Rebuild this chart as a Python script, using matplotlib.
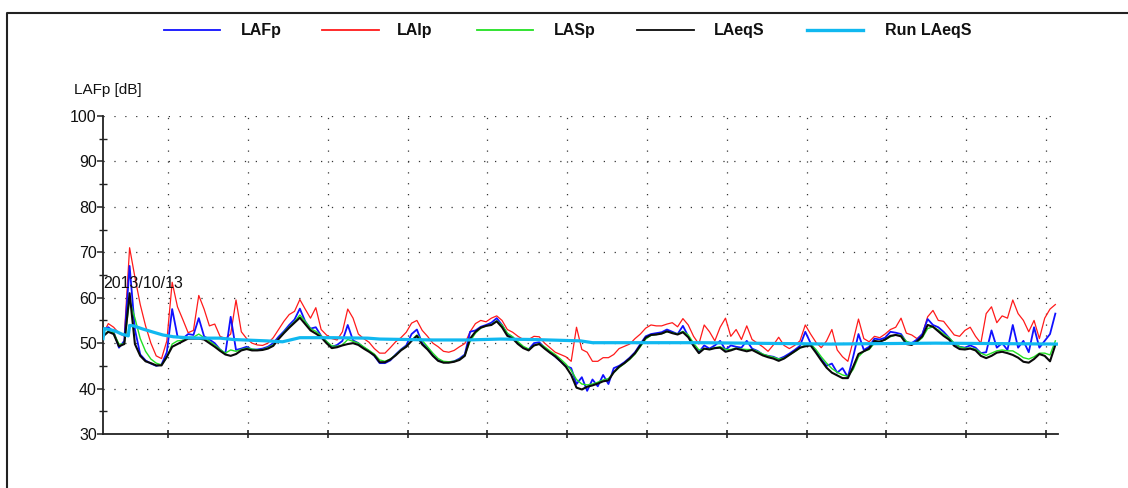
import numpy as np
import matplotlib
matplotlib.use("Agg")
import matplotlib.pyplot as plt
from matplotlib.lines import Line2D

plt.rcParams["font.family"] = ["Liberation Sans", "DejaVu Sans"]

# Sound level logger export, one value every 4 minutes (minutes since start)
SAMPLE_MIN = 4
LAeqS = [51.5, 52.5, 52.0, 49.3, 49.8, 61.0, 49.8, 47.2, 46.0, 45.6,
         45.1, 45.1, 47.0, 49.2, 49.8, 50.4, 51.0, 51.0, 51.0, 50.8,
         50.0, 49.2, 48.3, 47.5, 47.2, 47.6, 48.4, 48.7, 48.4, 48.4,
         48.5, 48.8, 49.4, 50.9, 52.2, 53.4, 54.5, 55.6, 54.2, 52.8,
         52.1, 51.3, 50.0, 48.9, 49.1, 49.5, 49.8, 50.0, 49.6, 48.8,
         48.1, 47.3, 45.8, 45.8, 46.4, 47.3, 48.4, 49.2, 50.5, 51.6,
         49.7, 48.6, 47.2, 46.1, 45.7, 45.7, 45.9, 46.3, 47.2, 51.0,
         52.5, 53.4, 53.8, 54.0, 54.8, 53.5, 51.6, 51.0, 49.8, 48.9,
         48.4, 49.5, 49.8, 48.8, 47.9, 47.1, 46.0, 44.8, 43.0, 40.2,
         39.8, 40.4, 40.7, 41.1, 41.6, 41.8, 43.6, 44.8, 45.6, 46.6,
         47.8, 49.5, 51.2, 51.8, 51.9, 52.1, 52.6, 52.2, 51.9, 52.4,
         51.3, 49.4, 47.8, 48.8, 48.6, 48.9, 49.0, 48.1, 48.4, 48.8,
         48.5, 48.2, 48.5, 47.9, 47.3, 46.9, 46.6, 46.1, 46.6, 47.4,
         48.2, 49.0, 49.3, 49.5, 47.9, 46.2, 44.6, 43.5, 42.9, 42.3,
         42.3, 44.8, 47.6, 48.2, 48.8, 50.5, 50.3, 50.8, 51.6, 51.8,
         51.5, 49.8, 49.6, 50.4, 51.5, 54.0, 53.6, 52.6, 51.6, 50.8,
         49.4, 48.7, 48.6, 48.8, 48.4, 47.2, 46.7, 47.2, 47.9, 48.1,
         47.8, 47.4, 46.8, 45.9, 45.7, 46.5, 47.6, 47.2, 46.0, 49.6]

LAFp = [53.0, 53.5, 52.5, 49.0, 50.5, 67.0, 53.0, 47.5, 46.2, 45.5,
        45.0, 45.3, 48.0, 57.5, 51.5, 51.0, 52.0, 51.8, 55.5, 51.5,
        50.8, 50.0, 48.6, 47.7, 55.8, 48.5, 48.8, 49.2, 48.6, 48.6,
        48.8, 49.2, 50.0, 51.4, 52.6, 54.0, 55.2, 57.6, 54.8, 53.2,
        53.5, 51.6, 50.3, 49.2, 49.6, 50.5, 54.0, 50.6, 50.0, 49.0,
        48.3, 47.2, 45.6, 45.6, 46.2, 47.5, 48.6, 49.5, 52.0, 53.0,
        50.0, 48.8, 47.3, 46.2, 45.8, 45.8, 46.0, 46.6, 47.5, 52.5,
        52.8, 53.6, 54.0, 54.5, 55.5, 54.0, 52.0, 51.3, 50.0, 49.0,
        48.6, 50.0, 50.2, 49.0, 48.0, 47.0, 46.0, 45.0, 44.5, 41.0,
        42.5, 39.5, 42.0, 40.5, 43.0, 41.0, 44.5, 45.0, 45.8, 46.8,
        48.0, 49.8, 51.5, 52.0, 52.2, 52.4, 53.0, 52.5, 52.0, 53.8,
        51.5, 49.5, 48.0, 49.5, 48.8, 49.5, 50.5, 48.5, 49.5, 49.2,
        49.0, 50.5, 48.8, 48.3, 47.5, 47.2, 47.0, 46.5, 47.0, 47.7,
        48.5, 49.4, 52.5, 50.0, 48.2, 46.5, 45.0, 45.5, 43.5, 44.5,
        42.5, 47.0, 52.0, 48.5, 49.2, 51.0, 50.8, 51.2, 52.5, 52.3,
        52.0, 50.2, 50.0, 50.8, 52.0, 55.3, 54.0, 53.5, 52.5, 51.2,
        49.8, 49.2, 49.0, 49.5, 49.0, 47.8, 48.0, 52.8, 49.0, 50.0,
        48.5, 54.0, 49.0, 50.5, 48.0, 53.5, 49.0, 50.5, 52.0, 56.5]

LASp = [51.8, 52.6, 52.3, 49.8, 49.8, 59.5, 55.5, 51.0, 48.2, 46.5,
        45.6, 45.2, 46.8, 49.8, 50.5, 50.6, 51.2, 51.3, 52.0, 51.2,
        50.4, 49.6, 48.6, 47.8, 48.5, 48.2, 48.6, 48.9, 48.7, 48.5,
        48.6, 49.0, 49.6, 51.0, 52.4, 53.6, 54.7, 56.2, 54.8, 53.2,
        52.6, 51.6, 50.4, 49.4, 49.3, 49.6, 50.8, 50.4, 50.0, 49.2,
        48.4, 47.6, 46.3, 46.0, 46.5, 47.4, 48.5, 49.3, 50.6, 51.8,
        50.6, 49.2, 47.8, 46.6, 46.0, 45.9, 46.0, 46.4, 47.3, 50.4,
        52.2, 53.3, 53.8, 54.1, 54.9, 54.0, 52.2, 51.4, 50.3, 49.3,
        48.7, 49.4, 49.9, 49.2, 48.3, 47.5, 46.5, 45.4, 44.0, 42.0,
        41.0, 40.8, 41.0, 41.4, 41.9, 42.2, 43.5, 44.6, 45.5, 46.4,
        47.6, 49.2, 50.9, 51.7, 51.9, 52.1, 52.5, 52.3, 52.0, 52.6,
        51.8, 50.0, 48.5, 48.7, 48.7, 49.0, 49.2, 48.6, 48.6, 48.9,
        48.7, 48.6, 48.6, 48.2, 47.6, 47.2, 46.9, 46.5, 46.7, 47.4,
        48.1, 48.9, 49.6, 49.8, 48.6, 47.0, 45.6, 44.4, 43.6, 43.0,
        42.7, 44.2, 47.0, 48.2, 48.6, 50.0, 50.4, 50.7, 51.4, 51.8,
        51.7, 50.4, 49.9, 50.2, 51.2, 53.2, 53.6, 52.9, 52.0, 51.2,
        50.0, 49.2, 48.9, 48.9, 48.7, 47.8, 47.3, 47.8, 48.3, 48.5,
        48.3, 48.3, 47.6, 46.8, 46.5, 47.0, 47.8, 47.8, 47.4, 50.5]

LAIp = [52.0, 54.3, 53.5, 52.2, 51.5, 71.0, 64.5, 58.5, 53.8, 50.0,
        47.2, 46.6, 50.5, 63.4, 58.0, 55.2, 52.3, 52.8, 60.5, 57.5,
        53.8, 54.2, 51.5, 51.0, 52.0, 59.5, 52.5, 51.0, 50.0, 49.6,
        49.5, 50.0, 51.2, 53.0, 54.8, 56.3, 57.0, 59.6, 57.5, 55.5,
        57.8, 53.0, 51.8, 51.0, 50.7, 52.5, 57.5, 55.5, 52.0, 51.0,
        50.2, 48.8, 47.8, 47.8, 49.0, 50.3, 51.2, 52.4, 54.4, 55.0,
        52.8, 51.5, 50.0, 49.2, 48.2, 48.0, 48.4, 49.2, 49.9, 52.5,
        54.3, 55.0, 54.7, 55.5, 56.0, 55.0, 53.0, 52.4, 51.5, 50.8,
        50.8, 51.5, 51.4, 50.0, 49.0, 48.0, 47.5, 47.0, 46.0, 53.5,
        48.6, 48.0, 46.0, 46.0, 46.8, 46.8, 47.5, 48.8, 49.3, 49.8,
        51.0, 52.0, 53.3, 54.0, 53.8, 53.8, 54.2, 54.5, 53.6, 55.4,
        54.0, 51.5, 49.8, 54.0, 52.5, 50.5, 53.5, 55.5, 51.5, 53.0,
        50.8, 53.8, 50.8, 50.0, 49.2, 48.2, 49.6, 51.3, 49.5, 48.8,
        49.5, 50.5, 54.0, 52.0, 50.2, 49.0, 50.5, 53.0, 48.5, 47.0,
        46.0, 50.5, 55.3, 51.0, 50.3, 51.5, 51.2, 52.0, 53.0, 53.5,
        55.5, 52.2, 51.8, 51.0, 52.0, 55.8, 57.2, 55.0, 54.8, 53.3,
        51.8, 51.5, 52.8, 53.5, 51.5, 50.0, 56.5, 58.0, 54.5, 56.0,
        55.5, 59.5, 56.5, 55.0, 52.5, 55.0, 51.0, 55.5, 57.5, 58.5]

# Running Leq, minutes since start
run_t = [0, 1, 3, 9, 14, 19, 20, 23, 30, 38, 45, 53, 63, 73, 88, 98,
         123, 135, 148, 173, 199, 208, 248, 274, 299, 323, 359, 368,
         449, 547, 626, 717]
run_LAeqS = [51.0, 53.2, 53.1, 52.7, 52.0, 51.6, 53.9, 53.8, 53.1, 52.4,
             51.8, 51.4, 51.2, 51.1, 51.1, 50.8, 50.5, 50.3, 51.2, 51.2,
             51.1, 50.9, 50.7, 50.7, 50.9, 50.8, 50.5, 50.1, 50.1, 49.8,
             50.0, 49.8]

series_names = ["LAFp", "LAIp", "LASp", "LAeqS", "Run LAeqS"]
series_colors = ["#1010ff", "#ff1a1a", "#22e022", "#0a0a0a", "#10b8f0"]
y_ticks = [30, 40, 50, 60, 70, 80, 90, 100]
hour_ticks = np.arange(49, 718, 60)      # full hours on the clock
date_label = "2013/10/13"

t = np.arange(len(LAeqS)) * SAMPLE_MIN

W, H = 1128, 488
fig = plt.figure(figsize=(W / 100, H / 100), dpi=100)
ax = fig.add_axes([103 / W, 1 - 434 / H, 955 / W, 318 / H])

ax.plot(t, LAIp, color=series_colors[1], lw=0.9, zorder=3)
ax.plot(t, LAFp, color=series_colors[0], lw=1.3, zorder=4)
ax.plot(t, LASp, color=series_colors[2], lw=1.0, zorder=5)
ax.plot(t, LAeqS, color=series_colors[3], lw=1.5, zorder=6)
ax.plot(run_t, run_LAeqS, color=series_colors[4], lw=2.3, zorder=7)

ax.set_xlim(0, 718)
ax.set_ylim(30, 100)

# dotted grid
dot = (0, (1, 7.7))
for yv in y_ticks[1:]:
    ax.plot([0, 713], [yv, yv], color="#333333", lw=0.9, ls=dot, zorder=1)
for xv in hour_ticks:
    ax.plot([xv, xv], [30, 100], color="#333333", lw=0.9, ls=dot, zorder=1)

for s in ("top", "right"):
    ax.spines[s].set_visible(False)
for s in ("left", "bottom"):
    ax.spines[s].set_color("#222222")
    ax.spines[s].set_linewidth(1.3)

ax.set_yticks(y_ticks)
ax.set_yticks(np.arange(35, 100, 10), minor=True)
ax.set_xticks(hour_ticks)
ax.set_xticklabels([])
ax.tick_params(axis="y", which="major", direction="out", length=4, pad=0.5,
               width=1.1, color="#222222",
               labelsize=11.5, labelcolor="#111111")
ax.tick_params(axis="y", which="minor", direction="inout", length=6,
               color="#222222", width=1)
ax.tick_params(axis="x", which="major", direction="inout", length=6,
               color="#222222", width=1.2)
ax.set_facecolor("none")

ax.text(0, 63.2, date_label, fontsize=11.5, color="#111111",
        ha="left", va="center", zorder=8)
ax.text(-0.03, 1.082, "LAFp [dB]", transform=ax.transAxes, fontsize=11,
        color="#111111", ha="left", va="center")

# outer frame
fig.add_artist(Line2D([7 / W, 7 / W, 1.0], [0.0, 1 - 13 / H, 1 - 13 / H],
                      transform=fig.transFigure, color="#222222", lw=1.5))

# legend row
leg_y = 1 - 30 / H
leg_items = [(164, 220, 241), (322, 379, 397), (477, 533, 554),
             (637, 694, 714), (807, 863, 885)]
for (x0, x1, xt), name, col in zip(leg_items, series_names, series_colors):
    lw = 2.4 if name == "Run LAeqS" else 1.3
    fig.add_artist(Line2D([x0 / W, x1 / W], [leg_y, leg_y],
                          transform=fig.transFigure, color=col, lw=lw))
    fig.text(xt / W, leg_y, name, fontsize=11.5, fontweight="bold",
             color="#111111", ha="left", va="center")

fig.savefig("out.png", dpi=100, facecolor="white")
